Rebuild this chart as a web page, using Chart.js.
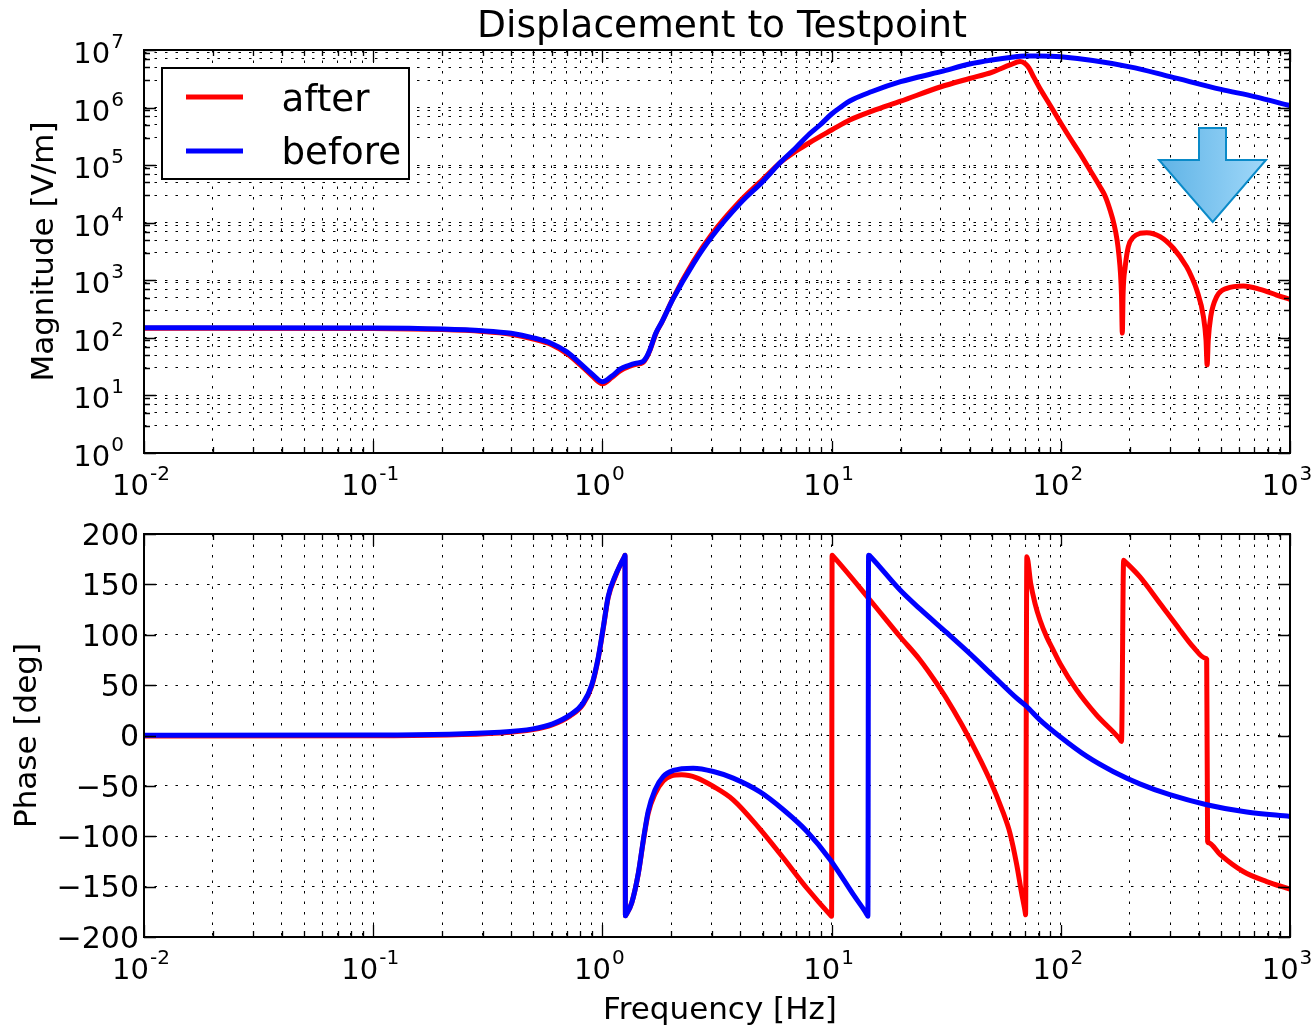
<!DOCTYPE html>
<html>
<head>
<meta charset="utf-8">
<title>Displacement to Testpoint</title>
<script src="https://cdn.jsdelivr.net/npm/chart.js@4"></script>
<style>
  html, body { margin: 0; padding: 0; background: #fff; }
  #page { position: relative; width: 1314px; height: 1028px; overflow: hidden; }
  canvas { position: absolute; left: 0; }
  #arrow { position: absolute; left: 0; top: 0; }
</style>
</head>
<body>
<div id="page">
  <canvas id="magChart" width="1314" height="514" style="top:0"></canvas>
  <canvas id="phaseChart" width="1314" height="514" style="top:514px"></canvas>
  <svg id="arrow" width="1314" height="300">
    <defs>
      <linearGradient id="arrowFill" x1="0" x2="1" y1="0" y2="0">
        <stop offset="0" stop-color="#5fb3e6"/>
        <stop offset="1" stop-color="#a0d8f9"/>
      </linearGradient>
    </defs>
    <polygon points="1199,128 1226,128 1226,160 1266,160 1212.7,222 1159,160 1199,160"
      fill="url(#arrowFill)" stroke="#0a8ac8" stroke-width="2"/>
  </svg>
</div>
<script>
const xDecades = [0.01, 0.1, 1, 10, 100, 1000];
const magDecades = [1, 10, 100, 1000, 10000, 100000, 1000000, 10000000];
const seriesNames = ["after", "before"];
const seriesColors = ["#ff0000", "#0000ff"];

const afterMagFreq = [0.01, 0.1, 0.2, 0.3, 0.4, 0.5, 0.6, 0.7, 0.8, 0.9, 1, 1.1, 1.2, 1.3, 1.39, 1.5, 1.56, 1.61, 1.71, 1.82, 2.03, 2.5, 3, 4, 5, 6, 7, 8, 10, 12, 15, 20, 30, 40, 50, 60,
  66.4, 69.8, 72.6, 75.7, 80.4, 89.7, 99.9, 109.7, 121.3, 134, 148, 156, 164, 171, 176, 179.5, 182, 184, 185.5, 187, 191, 197, 207, 221.6, 237, 271, 310, 354, 372, 392, 419, 430, 435, 440, 451, 479, 530, 626, 740, 874, 1000];
const afterMag = [147, 145, 139, 129, 115, 95, 76, 53, 34, 22, 16, 20.5, 27, 31.5, 34.5, 37, 45.5, 60, 118, 190, 480, 2150, 6300, 24000, 56000, 113000, 176000, 245000, 407000, 610000, 870000, 1290000, 2300000, 3200000, 4100000, 5500000,
  6310000, 5830000, 4870000, 3540000, 2280000, 1110000, 540000, 296000, 159000, 82400, 42600, 29100, 16600, 9120, 5010, 2640, 1390, 555, 121, 600, 1720, 3830, 5590, 6550, 6700, 5720, 3600, 1720, 1154, 678, 233, 92, 34, 92, 233, 519, 725, 796, 697, 555, 468];

const beforeMagFreq = [0.01, 0.1, 0.2, 0.3, 0.4, 0.5, 0.6, 0.7, 0.8, 0.9, 1, 1.1, 1.2, 1.3, 1.39, 1.5, 1.56, 1.61, 1.71, 1.82, 2.03, 2.5, 3, 4, 5, 6, 7, 8, 8.9, 10, 11.05, 12, 15, 20, 30, 40, 50, 60, 70, 80, 100, 200, 300, 500, 700, 1000];
const beforeMag = [150, 148, 142, 133, 120, 100, 80, 57, 36, 23.6, 17.3, 21.7, 28.8, 33, 36, 38.5, 47, 61.5, 120, 191, 470, 1970, 5700, 21900, 51600, 113000, 203000, 347000, 498000, 773000, 1040000, 1300000, 1900000, 2820000, 4200000, 5700000, 6700000, 7400000, 7850000, 7850000, 7600000, 5100000, 3440000, 2070000, 1550000, 1080000];

const afterPhaseFreq = [0.01, 0.1, 0.357, 0.498, 0.607, 0.723, 0.823, 0.898, 0.96, 1.01, 1.06, 1.135, 1.2, 1.25, 1.255, 1.26, 1.265, 1.343, 1.435, 1.51, 1.585, 1.696, 1.844, 2, 2.22, 2.58, 3.05, 3.72, 4.87, 6.16, 7.79, 9.9, 10, 10.05, 10.1, 14.7, 19.9, 24.3, 28.7, 34, 40.2, 49, 56, 60, 64.2, 67.4, 70, 70.2, 71.1, 73.9, 77.2, 81.1, 86.7, 92.7, 99.2, 117.4, 143, 180, 184, 188, 190, 221, 271, 331, 378, 428, 433, 437, 441, 495, 625, 791, 1000];
const afterPhase = [-0.5, -0.3, 2.5, 5.8, 10.8, 19.5, 31, 49, 77, 107, 137, 157, 170, 178, 179, -179, -178.5, -166, -137, -104, -77, -58, -45, -40, -39, -42, -50.6, -63.8, -92.9, -121.6, -151.4, -178.5, -179.5, 179, 178.5, 134.5, 98, 75, 51.9, 25.4, -4.3, -44, -76.4, -96.8, -128, -156, -176, -178, 177.5, 151, 131, 114.7, 98, 84.7, 71.5, 45, 20.5, -3, -6, 174, 173, 157.6, 131, 104.8, 88, 76.7, 75.7, -105, -106.5, -118, -135, -145, -152.5];

const beforePhaseFreq = [0.01, 0.1, 0.357, 0.498, 0.607, 0.723, 0.823, 0.898, 0.96, 1.01, 1.06, 1.135, 1.2, 1.25, 1.255, 1.26, 1.265, 1.343, 1.435, 1.51, 1.585, 1.696, 1.844, 2.04, 2.49, 3.05, 3.72, 4.87, 6.16, 7.79, 9.84, 12.45, 14.2, 14.4, 14.5, 14.6, 14.8, 19.9, 24.3, 31.8, 40.2, 50.8, 64.2, 71, 81, 99, 130, 169, 221, 299, 433, 647, 1000];
const beforePhase = [0.2, 0.5, 3.3, 6.6, 11.6, 20.5, 32, 50, 78, 108, 138, 158, 170, 178, 179, -179, -178.5, -166, -136.5, -103, -75, -54, -40.6, -34.7, -32.4, -35.7, -42.3, -56, -73.7, -95, -123, -158, -177, -179.5, 179, 178.8, 177.5, 144.4, 125.6, 102, 81, 59, 37, 28.8, 15.5, -1, -20.8, -35.7, -48, -58.8, -68.7, -76, -80.3];

const FONT = "'DejaVu Sans', sans-serif";

const zip = (xs, ys) => xs.map((x, i) => ({ x: x, y: ys[i] }));

// decade = major tick, minors inside it every `step`
const logTicks = (decades, step) => {
  const out = [];
  decades.forEach((d, i) => {
    out.push({ value: d, major: true });
    if (i < decades.length - 1) {
      for (let m = 1 + step; m < 10; m += step) out.push({ value: d * m, major: false });
    }
  });
  return out;
};

const makeDataset = (i, xs, ys) => ({
  label: seriesNames[i],
  data: zip(xs, ys),
  borderColor: seriesColors[i],
  borderWidth: 5,
  pointRadius: 0,
  order: 2 - i, // blue goes on top
  cubicInterpolationMode: "monotone",
  borderJoinStyle: "round",
  borderCapStyle: "round",
});

const gridOpts = {
  color: "#000",
  lineWidth: 1,
  drawTicks: false,
};
const borderOpts = { display: false, dash: [2.5, 8] };

// frame and inward tick marks on all four sides
const framePlugin = {
  id: "frame",
  afterDatasetsDraw(chart) {
    const { ctx, chartArea: a, scales } = chart;
    ctx.save();
    ctx.strokeStyle = "#000";
    ctx.lineWidth = 1.3;
    ctx.beginPath();
    scales.x.ticks.forEach((t) => {
      const p = Math.round(scales.x.getPixelForValue(t.value)) + 0.5;
      const len = t.major ? 12 : 6;
      ctx.moveTo(p, a.bottom);
      ctx.lineTo(p, a.bottom - len);
      ctx.moveTo(p, a.top);
      ctx.lineTo(p, a.top + len);
    });
    scales.y.ticks.forEach((t) => {
      const p = Math.round(scales.y.getPixelForValue(t.value)) + 0.5;
      const len = t.major === false ? 6 : 12;
      ctx.moveTo(a.left, p);
      ctx.lineTo(a.left + len, p);
      ctx.moveTo(a.right, p);
      ctx.lineTo(a.right - len, p);
    });
    ctx.stroke();
    ctx.lineWidth = 2;
    ctx.strokeRect(a.left, a.top, a.right - a.left, a.bottom - a.top);
    ctx.restore();
  },
};

const drawPower = (ctx, exp, x, y, alignRight) => {
  const base = "10";
  const sup = String(exp);
  ctx.font = "29px " + FONT;
  const bw = ctx.measureText(base).width;
  ctx.font = "20px " + FONT;
  const sw = ctx.measureText(sup).width;
  const left = alignRight ? x - bw - sw - 1 : x - (bw + sw + 1) / 2;
  ctx.font = "29px " + FONT;
  ctx.fillText(base, left, y);
  ctx.font = "20px " + FONT;
  ctx.fillText(sup, left + bw + 1, y - 15);
};

// 10^n labels: Chart.js tick labels can't do superscripts
const powerLabels = {
  id: "powerLabels",
  afterDraw(chart) {
    const { ctx, chartArea: a, scales } = chart;
    ctx.save();
    ctx.fillStyle = "#000";
    ctx.textBaseline = "alphabetic";
    ctx.textAlign = "left";
    xDecades.forEach((d) => {
      drawPower(ctx, Math.round(Math.log10(d)), scales.x.getPixelForValue(d) - 3, a.bottom + 42, false);
    });
    if (chart.canvas.id === "magChart") {
      magDecades.forEach((d) => {
        drawPower(ctx, Math.round(Math.log10(d)), 124, scales.y.getPixelForValue(d) + 13, true);
      });
    }
    ctx.restore();
  },
};

const chartTitle = {
  id: "chartTitle",
  afterDraw(chart) {
    const { ctx } = chart;
    ctx.save();
    ctx.fillStyle = "#000";
    ctx.font = "37.6px " + FONT;
    ctx.textAlign = "center";
    ctx.textBaseline = "alphabetic";
    ctx.fillText("Displacement to Testpoint", 722, 37);
    ctx.restore();
  },
};

const xLabel = {
  id: "xLabel",
  afterDraw(chart) {
    const { ctx } = chart;
    ctx.save();
    ctx.fillStyle = "#000";
    ctx.font = "31px " + FONT;
    ctx.textAlign = "center";
    ctx.textBaseline = "alphabetic";
    ctx.fillText("Frequency [Hz]", 720, 505);
    ctx.restore();
  },
};

const legendBox = {
  id: "legendBox",
  afterDatasetsDraw(chart) {
    const { ctx } = chart;
    ctx.save();
    ctx.fillStyle = "#fff";
    ctx.fillRect(162, 68, 247, 111);
    ctx.strokeStyle = "#000";
    ctx.lineWidth = 2;
    ctx.strokeRect(162, 68, 247, 111);
    chart.data.datasets.forEach((ds, i) => {
      ctx.strokeStyle = ds.borderColor;
      ctx.lineWidth = 5;
      ctx.beginPath();
      ctx.moveTo(186, 97 + i * 54);
      ctx.lineTo(243, 97 + i * 54);
      ctx.stroke();
      ctx.fillStyle = "#000";
      ctx.font = "37.2px " + FONT;
      ctx.textBaseline = "alphabetic";
      ctx.fillText(ds.label, 281.5, 111 + i * 53);
    });
    ctx.restore();
  },
};

const fixedY = (s) => {
  s.width = 144;
  s.paddingTop = 0;
  s.paddingBottom = 0;
};

const baseOptions = (o) => ({
  responsive: false,
  animation: false,
  events: [],
  layout: { padding: { top: o.top, right: 24, left: 0, bottom: 0 } },
  plugins: { legend: { display: false }, tooltip: { enabled: false } },
  scales: {
    x: {
      type: "logarithmic",
      min: 0.01,
      max: 1000,
      grid: gridOpts,
      border: borderOpts,
      ticks: { display: false, autoSkip: false },
      afterBuildTicks: (s) => { s.ticks = logTicks(xDecades, 1); },
      afterFit: (s) => { s.height = o.xHeight; },
    },
    y: o.y,
  },
});

new Chart(document.getElementById("magChart"), {
  type: "line",
  data: {
    datasets: [makeDataset(0, afterMagFreq, afterMag), makeDataset(1, beforeMagFreq, beforeMag)],
  },
  plugins: [framePlugin, powerLabels, chartTitle, legendBox],
  options: baseOptions({
    top: 50,
    xHeight: 61,
    y: {
      type: "logarithmic",
      min: 1,
      max: 10000000,
      grid: gridOpts,
      border: borderOpts,
      ticks: { display: false, autoSkip: false },
      afterBuildTicks: (s) => { s.ticks = logTicks(magDecades, 2); },
      afterFit: fixedY,
      title: {
        display: true,
        text: "Magnitude [V/m]",
        color: "#000",
        font: { family: FONT, size: 31 },
        padding: { top: 26, bottom: 0 },
      },
    },
  }),
});

new Chart(document.getElementById("phaseChart"), {
  type: "line",
  data: {
    datasets: [makeDataset(0, afterPhaseFreq, afterPhase), makeDataset(1, beforePhaseFreq, beforePhase)],
  },
  plugins: [framePlugin, powerLabels, xLabel],
  options: baseOptions({
    top: 20,
    xHeight: 91,
    y: {
      type: "linear",
      min: -200,
      max: 200,
      grid: gridOpts,
      border: borderOpts,
      ticks: {
        stepSize: 50,
        padding: 5,
        labelOffset: 3,
        color: "#000",
        font: { family: FONT, size: 30 },
        callback: (v) => (v < 0 ? "\u2212" + Math.abs(v) : String(v)),
      },
      afterFit: fixedY,
      title: {
        display: true,
        text: "Phase [deg]",
        color: "#000",
        font: { family: FONT, size: 31 },
        padding: { top: 9, bottom: 0 },
      },
    },
  }),
});
</script>
</body>
</html>
